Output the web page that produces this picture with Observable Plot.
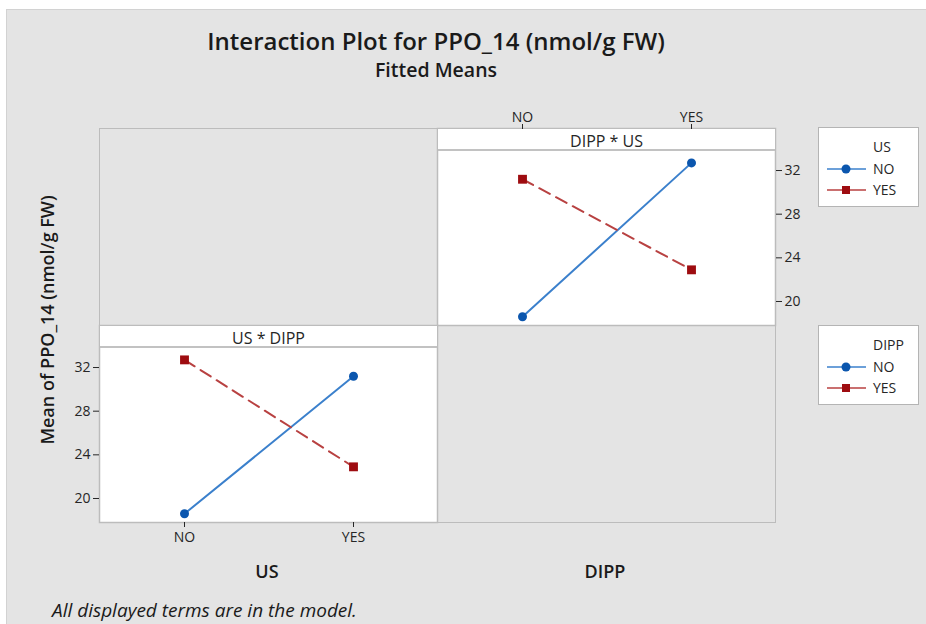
<!DOCTYPE html>
<html>
<head>
<meta charset="utf-8">
<script src="https://cdn.jsdelivr.net/npm/d3@7"></script>
<script src="https://cdn.jsdelivr.net/npm/@observablehq/plot@0.6"></script>
<style>
  body { margin: 0; background: #ffffff; font-family: "Open Sans", sans-serif; }
  #page { position: relative; width: 926px; height: 624px; overflow: hidden; }
  .abs { position: absolute; white-space: nowrap; }
  #bg { left: 6px; top: 9px; width: 930px; height: 630px; background: #e4e4e4; border-top: 1px solid #d2d2d2; border-left: 1px solid #d2d2d2; }
  .panel { background: #e4e4e4; border: 1px solid #bcbcbc; box-sizing: border-box; }
  .strip { background: #ffffff; border-bottom: 2px solid #c2c2c2; box-sizing: border-box; text-align: center; font-size: 16px; color: #262626; }
  .legend { background: #ffffff; border: 1px solid #b4b4b4; box-sizing: border-box; font-size: 14px; color: #262626; }
  .legend .row { position: absolute; left: 0; height: 20px; width: 100%; }
  .legend svg { position: absolute; left: 7px; top: 0; }
  .legend span { position: absolute; left: 54px; line-height: 20px; }
</style>
</head>
<body>
<div id="page">
  <div id="bg" class="abs"></div>
</div>
<script>
// ---- data ----
const levels = ["NO", "YES"];
const usLevel = ["NO", "NO", "YES", "YES"];
const dippLevel = ["NO", "YES", "NO", "YES"];
const fittedMean = [18.6, 32.7, 31.2, 22.9];
const yTicks = [20, 24, 28, 32];

const titleText = "Interaction Plot for PPO_14 (nmol/g FW)";
const subtitleText = "Fitted Means";
const yLabel = "Mean of PPO_14 (nmol/g FW)";
const footText = "All displayed terms are in the model.";

// ---- styling ----
const lineColor = {NO: "#3b80cc", YES: "#b84141"};
const markColor = {NO: "#0b56ae", YES: "#9e0c10"};
const yDomain = [17.8, 35.85];

const rows = usLevel.map((u, i) => ({US: u, DIPP: dippLevel[i], mean: fittedMean[i]}));
const page = document.getElementById("page");

function addDiv(cls, left, top, width, height, html, extra) {
  const d = document.createElement("div");
  d.className = "abs " + (cls || "");
  Object.assign(d.style, {left: left + "px", top: top + "px"});
  if (width != null) d.style.width = width + "px";
  if (height != null) d.style.height = height + "px";
  if (html != null) d.innerHTML = html;
  if (extra) Object.assign(d.style, extra);
  page.appendChild(d);
  return d;
}

// Titles
addDiv("", 136, 25, 600, 32, titleText, {textAlign: "center", fontSize: "24px", fontWeight: "600", color: "#1a1a1a", lineHeight: "32px"});
addDiv("", 136, 58, 600, 24, subtitleText, {textAlign: "center", fontSize: "19.5px", fontWeight: "600", color: "#1a1a1a", lineHeight: "24px"});

// Empty grid panels
addDiv("panel", 99, 128, 339, 198);
addDiv("panel", 437, 325, 339, 198);

function panel(xVar, seriesVar, pos) {
  const lines = levels.map((lv) =>
    Plot.line(rows.filter((d) => d[seriesVar] === lv), {
      x: xVar, y: "mean", stroke: lineColor[lv], strokeWidth: 2,
      strokeDasharray: lv === "YES" ? "12,7" : null
    })
  );
  const dots = levels.map((lv) =>
    Plot.dot(rows.filter((d) => d[seriesVar] === lv), {
      x: xVar, y: "mean", fill: markColor[lv],
      symbol: lv === "YES" ? "square" : "circle", r: lv === "YES" ? 5 : 4.5
    })
  );
  const chart = Plot.plot({
    width: pos.w, height: pos.h,
    marginLeft: pos.ml, marginRight: pos.mr, marginTop: pos.mt, marginBottom: pos.mb,
    style: {background: "transparent", fontFamily: "Open Sans, sans-serif", fontSize: "14px", color: "#262626", overflow: "visible"},
    x: {type: "point", domain: levels, padding: 0.5, axis: null},
    y: {domain: yDomain, axis: null},
    marks: [
      Plot.frame({fill: "white", stroke: "#bcbcbc", strokeWidth: 1.5}),
      Plot.axisX({anchor: pos.xAnchor, tickSize: 5, tickPadding: pos.xPad, label: null, fontSize: 14}),
      Plot.axisY(yTicks, {anchor: pos.yAnchor, tickSize: 6, tickPadding: 3, label: null, fontSize: 14}),
      ...lines,
      ...dots
    ]
  });
  const wrap = addDiv("", pos.left, pos.top, pos.w, pos.h);
  wrap.appendChild(chart);
}

// Top-right: DIPP * US (x = DIPP, series = US)
panel("DIPP", "US", {left: 432, top: 98, w: 383, h: 232, ml: 5, mr: 40, mt: 30, mb: 5, xAnchor: "top", yAnchor: "right", xPad: 2});
// Bottom-left: US * DIPP (x = US, series = DIPP)
panel("US", "DIPP", {left: 59, top: 320, w: 383, h: 232, ml: 40, mr: 5, mt: 5, mb: 30, xAnchor: "bottom", yAnchor: "left", xPad: 5});

// Strips
addDiv("strip", 438, 129, 337, 22, "DIPP * US", {lineHeight: "25px"});
addDiv("strip", 100, 326, 337, 22, "US * DIPP", {lineHeight: "25px"});

// Axis titles
addDiv("", 167, 557, 200, 28, "US", {textAlign: "center", fontSize: "18px", fontWeight: "600", color: "#1a1a1a", lineHeight: "28px"});
addDiv("", 505, 557, 200, 28, "DIPP", {textAlign: "center", fontSize: "18px", fontWeight: "600", color: "#1a1a1a", lineHeight: "28px"});
addDiv("", 47 - 150, 320 - 13, 300, 26, yLabel, {textAlign: "center", fontSize: "18px", fontWeight: "600", color: "#1a1a1a", lineHeight: "26px", transform: "rotate(-90deg)"});

// Footer
addDiv("", 52, 596, 500, 28, footText, {fontSize: "19px", fontStyle: "italic", color: "#1a1a1a", lineHeight: "28px"});

// Legends
function legend(top, title) {
  const box = addDiv("legend", 818, top, 101, 80);
  const t = document.createElement("div");
  Object.assign(t.style, {position: "absolute", left: "54px", top: "9px", lineHeight: "20px"});
  t.textContent = title;
  box.appendChild(t);
  levels.forEach((lv, i) => {
    const r = document.createElement("div");
    r.className = "row";
    r.style.top = (31 + i * 21) + "px";
    const marker = lv === "YES"
      ? `<rect x="16" y="6" width="8" height="8" fill="${markColor[lv]}"/>`
      : `<circle cx="20" cy="10" r="4.5" fill="${markColor[lv]}"/>`;
    r.innerHTML = `<svg width="42" height="20"><line x1="1" y1="10" x2="40" y2="10" stroke="${lineColor[lv]}" stroke-width="1.5"/>${marker}</svg><span>${lv}</span>`;
    box.appendChild(r);
  });
}
legend(127, "US");
legend(325, "DIPP");
</script>
</body>
</html>
